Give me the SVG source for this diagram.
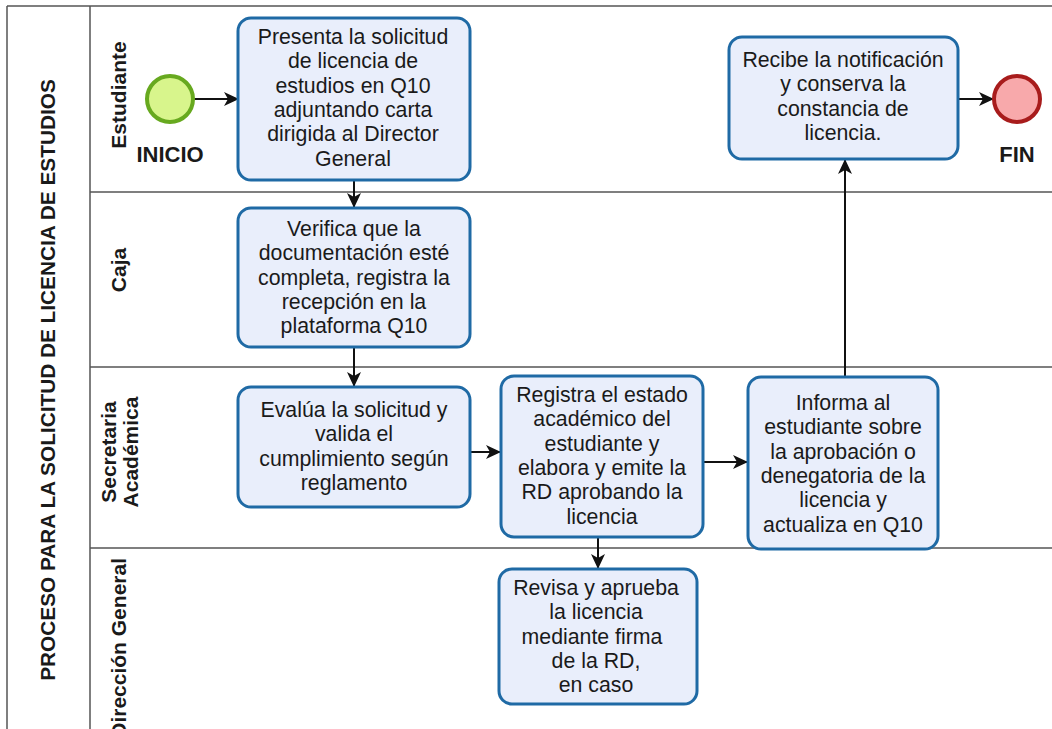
<svg xmlns="http://www.w3.org/2000/svg" width="1052" height="729" viewBox="0 0 1052 729">
<defs>
<marker id="arr" markerWidth="16" markerHeight="16" refX="14" refY="8" orient="auto" markerUnits="userSpaceOnUse">
<path d="M0,1 L15,8 L0,15 L4,8 Z" fill="#111"/>
</marker>
<style>
.lane{stroke:#555;stroke-width:1.5;fill:none}
.task{fill:#e9eefb;stroke:#1f6aa5;stroke-width:3}
.t{font-family:"Liberation Sans",Arial,sans-serif;font-size:21.3px;fill:#1a1a1a;text-anchor:middle}
.lb{font-family:"Liberation Sans",Arial,sans-serif;font-size:21px;font-weight:bold;fill:#1a1a1a;text-anchor:middle}
.c{stroke:#111;stroke-width:2;fill:none;marker-end:url(#arr)}
</style>
</defs>
<rect width="1052" height="729" fill="#fff"/>
<g id="pool">
<path class="lane" d="M7,6 H1052 M7,6 V729 M90,6 V729 M90,192 H1052 M90,367 H1052 M90,548 H1052"/>
<text class="lb" style="font-size:20.8px" transform="translate(55,380) rotate(-90)">PROCESO PARA LA SOLICITUD DE LICENCIA DE ESTUDIOS</text>
</g>
<g id="lane-estudiante"><text class="lb" transform="translate(126,95) rotate(-90)">Estudiante</text></g>
<g id="lane-caja"><text class="lb" transform="translate(126,270) rotate(-90)">Caja</text></g>
<g id="lane-secretaria"><text class="lb" transform="translate(116,452) rotate(-90)">Secretaria</text><text class="lb" transform="translate(138,452) rotate(-90)">Académica</text></g>
<g id="lane-direccion"><text class="lb" style="text-anchor:end" transform="translate(126,558) rotate(-90)">Dirección General</text></g>
<g id="connectors">
<line class="c" x1="193" y1="99" x2="238" y2="99"/>
<line class="c" x1="354" y1="180" x2="354" y2="207"/>
<line class="c" x1="354" y1="347" x2="354" y2="386"/>
<line class="c" x1="470" y1="452" x2="500" y2="452"/>
<line class="c" x1="703" y1="462" x2="747" y2="462"/>
<line class="c" x1="598" y1="537" x2="598" y2="568"/>
<line class="c" x1="845" y1="377" x2="845" y2="160"/>
<line class="c" x1="958" y1="99" x2="993" y2="99"/>
</g>
<g id="inicio">
<circle cx="170" cy="99" r="23" fill="#d8f58c" stroke="#67a91f" stroke-width="4"/>
<text class="lb" style="font-size:22px" x="170" y="162">INICIO</text>
</g>
<g id="fin">
<circle cx="1017" cy="99" r="23" fill="#f8a9ab" stroke="#a81c1c" stroke-width="4"/>
<text class="lb" style="font-size:22px" x="1017" y="162">FIN</text>
</g>
<g id="presenta">
<rect class="task" x="238" y="18" width="232" height="162" rx="13"/>
<text class="t"><tspan x="353" y="44">Presenta la solicitud</tspan><tspan x="353" y="68.3">de licencia de</tspan><tspan x="353" y="92.6">estudios en Q10</tspan><tspan x="353" y="116.9">adjuntando carta</tspan><tspan x="353" y="141.2">dirigida al Director</tspan><tspan x="353" y="165.5">General</tspan></text>
</g>
<g id="verifica">
<rect class="task" x="238" y="208" width="232" height="139" rx="13"/>
<text class="t"><tspan x="354" y="236">Verifica que la</tspan><tspan x="354" y="260.3">documentación esté</tspan><tspan x="354" y="284.6">completa, registra la</tspan><tspan x="354" y="308.9">recepción en la</tspan><tspan x="354" y="333.2">plataforma Q10</tspan></text>
</g>
<g id="evalua">
<rect class="task" x="238" y="387" width="232" height="120" rx="13"/>
<text class="t"><tspan x="354" y="417">Evalúa la solicitud y</tspan><tspan x="354" y="441.3">valida el</tspan><tspan x="354" y="465.6">cumplimiento según</tspan><tspan x="354" y="489.9">reglamento</tspan></text>
</g>
<g id="registra">
<rect class="task" x="501" y="376" width="202" height="161" rx="13"/>
<text class="t"><tspan x="602" y="402">Registra el estado</tspan><tspan x="602" y="426.3">académico del</tspan><tspan x="602" y="450.6">estudiante y</tspan><tspan x="602" y="474.9">elabora y emite la</tspan><tspan x="602" y="499.2">RD aprobando la</tspan><tspan x="602" y="523.5">licencia</tspan></text>
</g>
<g id="informa">
<rect class="task" x="748" y="377" width="190" height="172" rx="13"/>
<text class="t"><tspan x="843" y="410">Informa al</tspan><tspan x="843" y="434.3">estudiante sobre</tspan><tspan x="843" y="458.6">la aprobación o</tspan><tspan x="843" y="482.9">denegatoria de la</tspan><tspan x="843" y="507.2">licencia y</tspan><tspan x="843" y="531.5">actualiza en Q10</tspan></text>
</g>
<g id="revisa">
<rect class="task" x="499" y="569" width="198" height="135" rx="13"/>
<text class="t"><tspan x="596" y="595">Revisa y aprueba</tspan><tspan x="596" y="619.3">la licencia</tspan><tspan x="592" y="643.6">mediante firma</tspan><tspan x="596" y="667.9">de la RD,</tspan><tspan x="596" y="692.2">en caso</tspan></text>
</g>
<g id="recibe">
<rect class="task" x="729" y="37" width="229" height="122" rx="13"/>
<text class="t"><tspan x="843" y="67">Recibe la notificación</tspan><tspan x="843" y="91.3">y conserva la</tspan><tspan x="843" y="115.6">constancia de</tspan><tspan x="843" y="139.9">licencia.</tspan></text>
</g>
</svg>
